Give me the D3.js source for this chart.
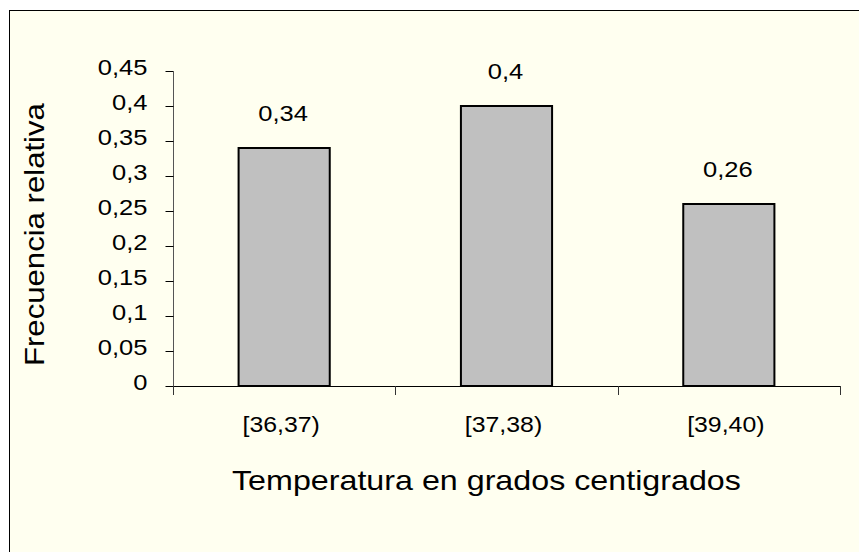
<!DOCTYPE html>
<meta charset="utf-8">
<style>
  body { margin: 0; background: #fff; }
  text { font-family: Arial, "Liberation Sans", sans-serif; fill: #000; }
</style>
<svg width="859" height="552"></svg>
<script src="https://d3js.org/d3.v7.min.js"></script>
<script>
  var categories = ["[36,37)", "[37,38)", "[39,40)"];
  var values = [0.34, 0.4, 0.26];
  var yTicks = [0, 0.05, 0.1, 0.15, 0.2, 0.25, 0.3, 0.35, 0.4, 0.45];
  var xTitle = "Temperatura en grados centigrados";
  var yTitle = "Frecuencia relativa";

  var svg = d3.select("svg");
  var sx = 1.16; // the original text is drawn a bit wide

  // chart area frame (runs off the right and bottom edges)
  svg.append("rect")
    .attr("x", 9.5)
    .attr("y", 10.5)
    .attr("width", 900)
    .attr("height", 600)
    .attr("fill", "#fffff0")
    .attr("stroke", "#000")
    .attr("stroke-width", 1);

  var x = d3.scaleBand()
    .domain(categories)
    .range([173, 840])
    .paddingInner(0.59)
    .paddingOuter(0.295);

  var y = d3.scaleLinear()
    .domain([0, 0.45])
    .range([386, 71]);

  var locale = d3.formatLocale({decimal: ",", thousands: ".", grouping: [3], currency: ["", ""]});
  var fmt = locale.format(".2~f");

  // y axis
  var yAxis = svg.append("g")
    .attr("transform", "translate(173.5,0)")
    .call(d3.axisLeft(y).tickValues(yTicks).tickSize(8).tickFormat(fmt));
  yAxis.select(".domain").attr("stroke", "#555").attr("d", "M0," + (y(0.45) + 0.5) + "V" + (y(0) + 0.5));
  yAxis.selectAll(".tick").attr("transform", function(d) { return "translate(0," + (Math.round(y(d)) + 0.5) + ")"; });
  yAxis.selectAll(".tick line").attr("stroke", "#000");
  yAxis.selectAll(".tick text")
    .attr("x", null)
    .attr("dy", null)
    .attr("transform", "translate(-26,3) scale(" + sx + ",1)")
    .style("font-size", "22px");

  // x axis line + category separators
  var x0 = x.range()[0], x1 = x.range()[1];
  svg.append("line")
    .attr("x1", x0).attr("x2", x1)
    .attr("y1", y(0) + 0.5).attr("y2", y(0) + 0.5)
    .attr("stroke", "#000");
  var seps = d3.range(categories.length + 1).map(function(i) { return x0 + i * x.step(); });
  svg.selectAll("line.sep")
    .data(seps)
    .enter().append("line")
    .attr("class", "sep")
    .attr("x1", function(d) { return Math.round(d) + 0.5; })
    .attr("x2", function(d) { return Math.round(d) + 0.5; })
    .attr("y1", y(0))
    .attr("y2", y(0) + 9)
    .attr("stroke", "#333");

  svg.selectAll("text.cat")
    .data(categories)
    .enter().append("text")
    .attr("class", "cat")
    .attr("transform", function(d) {
      return "translate(" + (x(d) + x.bandwidth() / 2 - 3) + ",432) scale(" + (sx - 0.03) + ",1)";
    })
    .attr("text-anchor", "middle")
    .style("font-size", "22px")
    .text(function(d) { return d; });

  // bars
  svg.selectAll("rect.bar")
    .data(values)
    .enter().append("rect")
    .attr("class", "bar")
    .attr("x", function(d, i) { return x(categories[i]); })
    .attr("y", function(d) { return y(d); })
    .attr("width", x.bandwidth())
    .attr("height", function(d) { return y(0) - y(d); })
    .attr("fill", "#c0c0c0")
    .attr("stroke", "#000")
    .attr("stroke-width", 2);

  // value labels
  svg.selectAll("text.val")
    .data(values)
    .enter().append("text")
    .attr("class", "val")
    .attr("transform", function(d, i) {
      return "translate(" + (x(categories[i]) + x.bandwidth() / 2 - 1) + "," + (y(d) - 27) + ") scale(" + sx + ",1)";
    })
    .attr("text-anchor", "middle")
    .style("font-size", "22px")
    .text(function(d) { return fmt(d); });

  // axis titles, stretched to the width they have in the original
  var xt = svg.append("text")
    .style("font-size", "28px")
    .text(xTitle);
  var xk = 509 / xt.node().getComputedTextLength();
  xt.attr("transform", "translate(232,490) scale(" + xk + ",1)");

  var yt = svg.append("text")
    .style("font-size", "28px")
    .text(yTitle);
  var yk = 263 / yt.node().getComputedTextLength();
  yt.attr("transform", "translate(44,366) rotate(-90) scale(" + yk + ",1)");
</script>
